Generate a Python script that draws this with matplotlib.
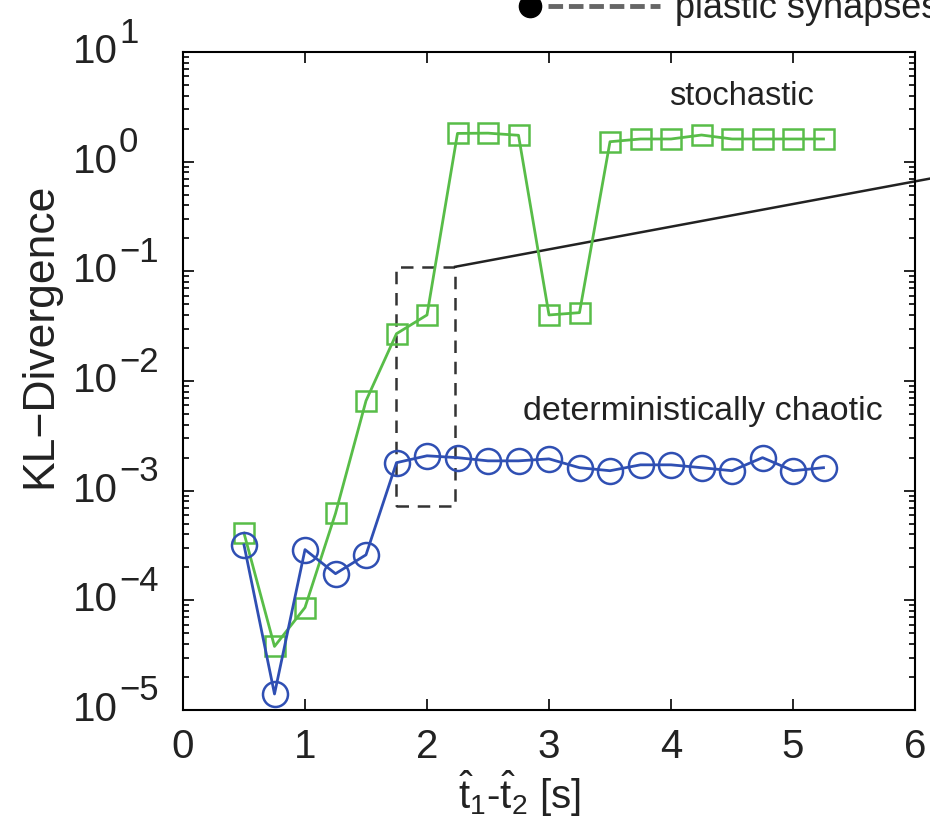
import matplotlib
matplotlib.use('Agg')
import matplotlib.pyplot as plt
import matplotlib.transforms as mtransforms
from matplotlib.lines import Line2D
from matplotlib.patches import Rectangle

# ---- Data ----
dt = [0.5, 0.75, 1.0, 1.25, 1.5, 1.75, 2.0, 2.25, 2.5, 2.75,
      3.0, 3.25, 3.5, 3.75, 4.0, 4.25, 4.5, 4.75, 5.0, 5.25]

kl_stochastic = [4.1e-4, 3.8e-5, 8.6e-5, 6.2e-4, 6.6e-3, 2.7e-2, 4.0e-2, 1.81, 1.82, 1.74,
                 4.0e-2, 4.2e-2, 1.52, 1.61, 1.61, 1.75, 1.61, 1.61, 1.61, 1.61]

kl_chaotic = [3.2e-4, 1.4e-5, 2.9e-4, 1.75e-4, 2.6e-4, 1.8e-3, 2.08e-3, 2.0e-3, 1.87e-3, 1.87e-3,
              1.95e-3, 1.62e-3, 1.52e-3, 1.72e-3, 1.72e-3, 1.62e-3, 1.52e-3, 2.0e-3, 1.52e-3, 1.62e-3]

decades = [-5, -4, -3, -2, -1, 0, 1]

# zoom box (x range, y range) and the connector end point
box_x = [1.745, 2.23]
box_y = [7.3e-4, 0.11]
connector_end = (6.15, 0.71)

plt.rcParams.update({
    'font.family': 'Liberation Sans',
    'mathtext.fontset': 'custom',
    'mathtext.rm': 'Liberation Sans',
    'mathtext.it': 'Liberation Sans',
    'mathtext.default': 'regular',
    'font.size': 29,
})

GREEN = '#58bd48'
BLUE = '#2f4fb3'
TXT = '#222222'

fig = plt.figure(figsize=(9.3, 8.23), dpi=100)
ax = fig.add_axes([183 / 930, 1 - 710 / 823, 732 / 930, 658 / 823])

ax.plot(dt, kl_stochastic, '-s', color=GREEN, lw=2.0, ms=15, mfc='none', mew=1.8, zorder=3)
ax.plot(dt, kl_chaotic, '-o', color=BLUE, lw=2.0, ms=18, mfc='none', mew=1.8, zorder=3)

ax.set_yscale('log')
ax.set_xlim(0, 6)
ax.set_ylim(1e-5, 1e1)
ax.set_xticks([0, 1, 2, 3, 4, 5, 6])
ax.set_yticks([10.0 ** d for d in decades])
ax.set_yticklabels([])

# MATLAB-style decade labels: "10" with a big raised exponent
blend = mtransforms.blended_transform_factory(ax.transAxes, ax.transData)
for d in decades:
    base_tr = blend + mtransforms.ScaledTranslation(-65 / 100, 0, fig.dpi_scale_trans)
    exp_tr = blend + mtransforms.ScaledTranslation(-64 / 100, 19 / 100, fig.dpi_scale_trans)
    ax.text(0, 10.0 ** d, '10', transform=base_tr, ha='right', va='center',
            fontsize=29, color=TXT)
    ax.text(0, 10.0 ** d, str(d).replace('-', '\u2212'), transform=exp_tr, ha='left',
            va='center', fontsize=25, color=TXT)

# dashed zoom box + connector going off to the right
rect = Rectangle((box_x[0], box_y[0]), box_x[1] - box_x[0], box_y[1] - box_y[0],
                 fill=False, ec='#333333', lw=1.8, ls=(0, (5, 3.5)), zorder=2)
ax.add_patch(rect)
ax.plot([box_x[1], connector_end[0]], [box_y[1], connector_end[1]], color=TXT,
        lw=1.8, clip_on=False, zorder=2)

ax.text(4.58, 3.9, 'stochastic', fontsize=23.5, ha='center', va='center', color=TXT)
ax.text(4.26, 5.3e-3, 'deterministically chaotic', fontsize=24.5, ha='center', va='center',
        color=TXT)

for s in ax.spines.values():
    s.set_linewidth(1.5)
ax.tick_params(which='both', direction='in', top=True, right=True, width=1.2)
ax.tick_params(which='major', length=8)
ax.tick_params(which='minor', length=4)
ax.tick_params(axis='x', which='major', pad=13, labelcolor=TXT)

ax.set_ylabel('KL\u2212Divergence', fontsize=32, color=TXT)
ax.yaxis.set_label_coords(-0.167, 0.57)
ax.set_xlabel(r'$\hat{t}_1$-$\hat{t}_2$ [s]', fontsize=29, color=TXT)
ax.xaxis.set_label_coords(0.46, -0.09)

# clipped legend entry at the very top (from the neighbouring panel)
fig.add_artist(Line2D([530 / 930], [1 - 6 / 823], marker='o', ms=16, color='black',
                      transform=fig.transFigure))
fig.add_artist(Line2D([548 / 930, 660 / 930], [1 - 6 / 823, 1 - 6 / 823], color='#666666',
                      lw=3.5, ls=(0, (3, 1.2)), transform=fig.transFigure))
fig.text(675 / 930, 1 - 8 / 823, 'plastic synapses', fontsize=26, va='center', ha='left',
         color=TXT)

plt.savefig('out.png', dpi=100)
